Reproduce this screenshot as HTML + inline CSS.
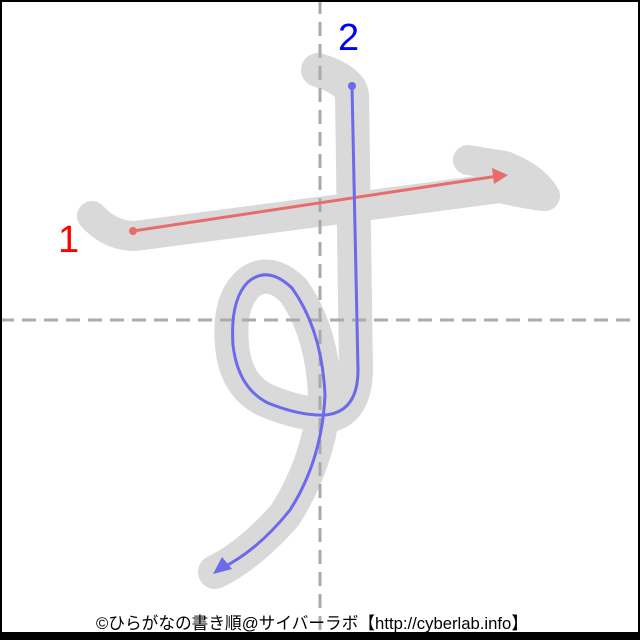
<!DOCTYPE html>
<html><head><meta charset="utf-8"><style>
html,body{margin:0;padding:0;background:#fff}
svg{display:block}
</style></head><body>
<svg width="640" height="640" viewBox="0 0 640 640">
<rect x="0" y="0" width="640" height="640" fill="#fff"/>
<g fill="none" stroke="#d9d9d9" stroke-linecap="round" stroke-linejoin="round">
<path d="M92,216 Q110,236 135,236 L500,188 Q530,195 545,196 Q535,178 505,166 L468,160" stroke-width="30"/>
<path d="M318,70 Q350,80 352,95 L356,370 Q355,410 330,415 Q300,415 265,400 Q235,385 232,345 Q228,300 250,282 Q270,268 293,290 Q322,330 325,395 Q320,460 285,515 Q250,555 215,572" stroke-width="34"/>
</g>
<g stroke="#aaa" stroke-width="3" stroke-dasharray="14,8">
<line x1="320" y1="0" x2="320" y2="632"/>
<line x1="0" y1="320" x2="640" y2="320"/>
</g>
<g fill="none" stroke-width="3" stroke-linecap="round" stroke-linejoin="round">
<path d="M133,231 L498,176" stroke="#e96c6c"/>
<path d="M352,86 L358,370 Q358,412 325,415 Q300,416 268,403 Q238,388 233,345 Q230,300 248,282 Q268,265 292,288 Q322,330 325,395 Q322,460 290,510 Q258,550 222,568" stroke="#6a6aeb"/>
</g>
<circle cx="133" cy="231" r="4" fill="#e96c6c"/>
<polygon points="508,175 492,168 494,184" fill="#e96c6c"/>
<circle cx="352" cy="86" r="4" fill="#6a6aeb"/>
<polygon points="213,574 222,557 232,569" fill="#6a6aeb"/>
<text x="58" y="252" font-family="Liberation Sans, sans-serif" font-size="38" fill="#ff0000">1</text>
<text x="338" y="50" font-family="Liberation Sans, sans-serif" font-size="38" fill="#0000ff">2</text>
<rect x="1" y="1" width="638" height="638" fill="none" stroke="#000" stroke-width="2"/>
<rect x="0" y="632" width="640" height="8" fill="#000"/>
<text x="312" y="629" text-anchor="middle" font-family="Liberation Sans, 'Noto Sans CJK JP', sans-serif" font-size="17" fill="#000" textLength="432" lengthAdjust="spacingAndGlyphs">©ひらがなの書き順@サイバーラボ【http://cyberlab.info】</text>
</svg>
</body></html>
